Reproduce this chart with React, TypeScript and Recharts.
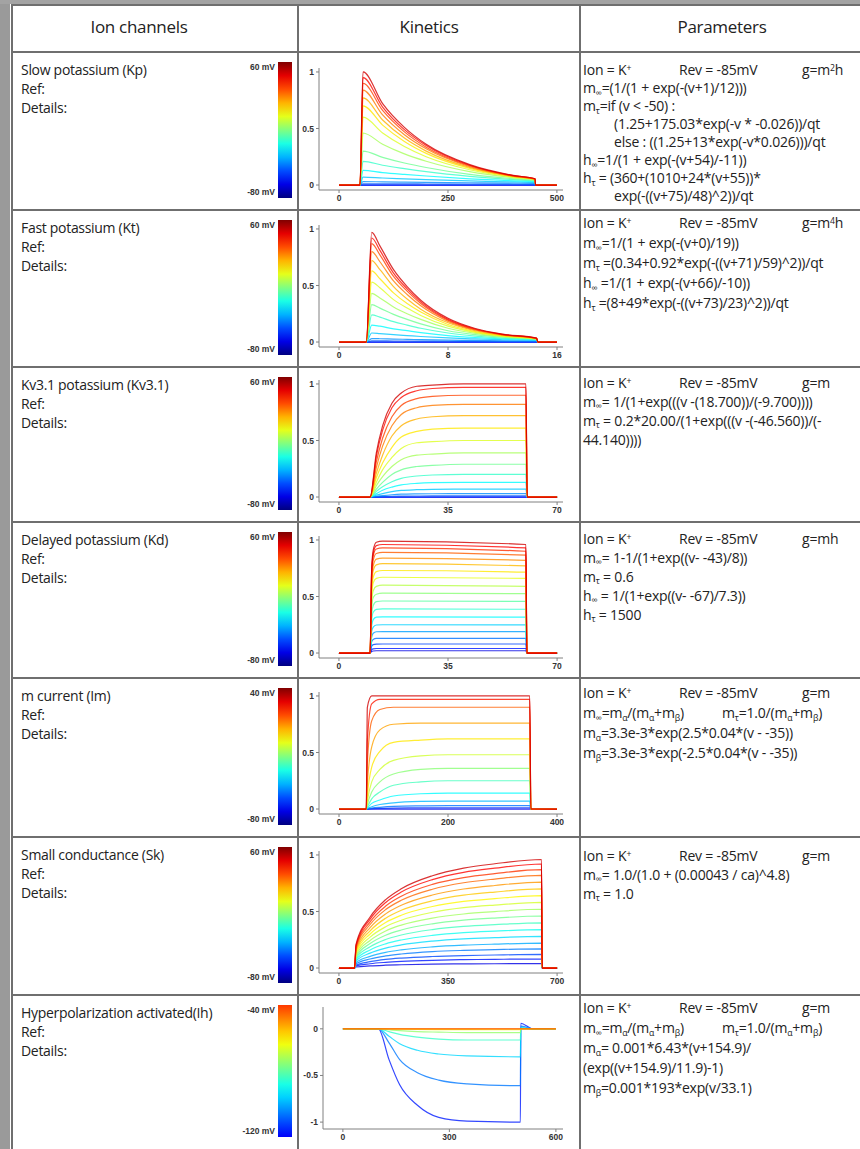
import React from 'react';
import { LineChart, Line, XAxis, YAxis } from 'recharts';

// ---------- data ----------

const channelNames = [
  'Slow potassium (Kp)',
  'Fast potassium (Kt)',
  'Kv3.1 potassium (Kv3.1)',
  'Delayed potassium (Kd)',
  'm current (Im)',
  'Small conductance (Sk)',
  'Hyperpolarization activated(Ih)',
];

const barTopLabels = ['60 mV', '60 mV', '60 mV', '60 mV', '40 mV', '60 mV', '-40 mV'];
const barBottomLabels = ['-80 mV', '-80 mV', '-80 mV', '-80 mV', '-80 mV', '-80 mV', '-120 mV'];

const unitTicks = [0, 0.5, 1];
const ihYTicks = [-1, -0.5, 0];

// Slow potassium (Kp)
const kpXTicks = [0, 250, 500];
const kpTime = [0, 48, 55, 100, 150, 200, 300, 400, 450, 451, 500];
const kpTraces = [
  [0, 0, 1.0, 0.72, 0.51, 0.36, 0.18, 0.085, 0.055, 0, 0],
  [0, 0, 0.95, 0.69, 0.49, 0.35, 0.175, 0.083, 0.054, 0, 0],
  [0, 0, 0.9, 0.66, 0.47, 0.335, 0.17, 0.081, 0.053, 0, 0],
  [0, 0, 0.84, 0.62, 0.445, 0.32, 0.163, 0.079, 0.052, 0, 0],
  [0, 0, 0.77, 0.575, 0.415, 0.3, 0.155, 0.077, 0.051, 0, 0],
  [0, 0, 0.7, 0.53, 0.385, 0.28, 0.147, 0.074, 0.05, 0, 0],
  [0, 0, 0.6, 0.46, 0.34, 0.25, 0.135, 0.07, 0.048, 0, 0],
  [0, 0, 0.46, 0.36, 0.275, 0.21, 0.118, 0.064, 0.045, 0, 0],
  [0, 0, 0.3, 0.245, 0.195, 0.155, 0.094, 0.055, 0.04, 0, 0],
  [0, 0, 0.21, 0.175, 0.145, 0.118, 0.076, 0.047, 0.036, 0, 0],
  [0, 0, 0.13, 0.11, 0.094, 0.08, 0.055, 0.037, 0.03, 0, 0],
  [0, 0, 0.07, 0.062, 0.055, 0.048, 0.036, 0.027, 0.022, 0, 0],
  [0, 0, 0.03, 0.028, 0.026, 0.024, 0.02, 0.016, 0.014, 0, 0],
  [0, 0, 0.01, 0.01, 0.01, 0.009, 0.008, 0.007, 0.006, 0, 0],
  [0, 0, 0, 0, 0, 0, 0, 0, 0, 0, 0],
  [0, 0, 0, 0, 0, 0, 0, 0, 0, 0, 0],
];

// Fast potassium (Kt)
const ktXTicks = [0, 8, 16];
const ktTime = [0, 2, 2.4, 3, 4, 5, 6, 8, 10, 12, 14.5, 14.6, 16];
const ktTraces = [
  [0, 0, 0.97, 0.85, 0.64, 0.49, 0.37, 0.21, 0.12, 0.07, 0.035, 0, 0],
  [0, 0, 0.92, 0.81, 0.61, 0.47, 0.355, 0.2, 0.115, 0.068, 0.034, 0, 0],
  [0, 0, 0.87, 0.77, 0.58, 0.45, 0.34, 0.193, 0.111, 0.066, 0.033, 0, 0],
  [0, 0, 0.8, 0.71, 0.54, 0.42, 0.32, 0.183, 0.106, 0.063, 0.032, 0, 0],
  [0, 0, 0.72, 0.64, 0.49, 0.38, 0.29, 0.17, 0.1, 0.06, 0.031, 0, 0],
  [0, 0, 0.63, 0.56, 0.435, 0.34, 0.265, 0.155, 0.092, 0.056, 0.03, 0, 0],
  [0, 0, 0.53, 0.48, 0.375, 0.3, 0.235, 0.14, 0.085, 0.052, 0.028, 0, 0],
  [0, 0, 0.43, 0.39, 0.31, 0.25, 0.2, 0.122, 0.076, 0.047, 0.026, 0, 0],
  [0, 0, 0.33, 0.3, 0.245, 0.2, 0.16, 0.1, 0.065, 0.042, 0.024, 0, 0],
  [0, 0, 0.24, 0.22, 0.18, 0.15, 0.122, 0.08, 0.053, 0.035, 0.021, 0, 0],
  [0, 0, 0.15, 0.14, 0.117, 0.1, 0.083, 0.057, 0.04, 0.028, 0.018, 0, 0],
  [0, 0, 0.08, 0.075, 0.065, 0.057, 0.049, 0.036, 0.027, 0.02, 0.014, 0, 0],
  [0, 0, 0.03, 0.029, 0.026, 0.024, 0.021, 0.017, 0.014, 0.011, 0.009, 0, 0],
  [0, 0, 0.01, 0.01, 0.009, 0.009, 0.008, 0.007, 0.006, 0.005, 0.004, 0, 0],
  [0, 0, 0, 0, 0, 0, 0, 0, 0, 0, 0, 0, 0],
  [0, 0, 0, 0, 0, 0, 0, 0, 0, 0, 0, 0, 0],
];

// Kv3.1 potassium
const kv31XTicks = [0, 35, 70];
const kv31Time = [0, 10, 12, 14, 17, 20, 25, 30, 40, 60, 60.4, 70];
const kv31Traces = [
  [0, 0, 0.39, 0.63, 0.83, 0.92, 0.98, 0.99, 1.0, 1.0, 0, 0],
  [0, 0, 0.36, 0.59, 0.79, 0.88, 0.94, 0.96, 0.97, 0.97, 0, 0],
  [0, 0, 0.31, 0.52, 0.71, 0.81, 0.87, 0.89, 0.9, 0.9, 0, 0],
  [0, 0, 0.26, 0.45, 0.63, 0.73, 0.79, 0.81, 0.82, 0.82, 0, 0],
  [0, 0, 0.21, 0.37, 0.54, 0.63, 0.69, 0.71, 0.72, 0.72, 0, 0],
  [0, 0, 0.17, 0.3, 0.44, 0.53, 0.58, 0.6, 0.61, 0.61, 0, 0],
  [0, 0, 0.13, 0.24, 0.35, 0.43, 0.48, 0.49, 0.5, 0.5, 0, 0],
  [0, 0, 0.1, 0.18, 0.27, 0.33, 0.37, 0.38, 0.39, 0.39, 0, 0],
  [0, 0, 0.07, 0.13, 0.2, 0.24, 0.27, 0.28, 0.29, 0.29, 0, 0],
  [0, 0, 0.05, 0.09, 0.135, 0.165, 0.186, 0.195, 0.2, 0.2, 0, 0],
  [0, 0, 0.03, 0.06, 0.088, 0.107, 0.121, 0.127, 0.13, 0.13, 0, 0],
  [0, 0, 0.017, 0.03, 0.047, 0.058, 0.065, 0.068, 0.07, 0.07, 0, 0],
  [0, 0, 0.007, 0.013, 0.02, 0.025, 0.028, 0.029, 0.03, 0.03, 0, 0],
  [0, 0, 0.002, 0.004, 0.007, 0.008, 0.009, 0.01, 0.01, 0.01, 0, 0],
  [0, 0, 0, 0, 0, 0, 0, 0, 0, 0, 0, 0],
  [0, 0, 0, 0, 0, 0, 0, 0, 0, 0, 0, 0],
];

// Delayed potassium (Kd)
const kdXTicks = [0, 35, 70];
const kdTime = [0, 10, 10.5, 11, 12, 14, 60, 60.3, 70];
const kdTraces = [
  [0, 0, 0.74, 0.91, 0.98, 0.99, 0.96, 0, 0],
  [0, 0, 0.72, 0.88, 0.95, 0.96, 0.93, 0, 0],
  [0, 0, 0.7, 0.86, 0.92, 0.93, 0.9, 0, 0],
  [0, 0, 0.67, 0.82, 0.88, 0.89, 0.865, 0, 0],
  [0, 0, 0.63, 0.77, 0.83, 0.84, 0.82, 0, 0],
  [0, 0, 0.59, 0.73, 0.78, 0.79, 0.77, 0, 0],
  [0, 0, 0.55, 0.67, 0.72, 0.73, 0.715, 0, 0],
  [0, 0, 0.5, 0.62, 0.66, 0.67, 0.66, 0, 0],
  [0, 0, 0.45, 0.55, 0.59, 0.6, 0.59, 0, 0],
  [0, 0, 0.4, 0.49, 0.52, 0.53, 0.525, 0, 0],
  [0, 0, 0.345, 0.42, 0.455, 0.46, 0.456, 0, 0],
  [0, 0, 0.29, 0.36, 0.386, 0.39, 0.387, 0, 0],
  [0, 0, 0.24, 0.295, 0.317, 0.32, 0.318, 0, 0],
  [0, 0, 0.19, 0.23, 0.248, 0.25, 0.249, 0, 0],
  [0, 0, 0.14, 0.175, 0.188, 0.19, 0.19, 0, 0],
  [0, 0, 0.1, 0.12, 0.129, 0.13, 0.13, 0, 0],
  [0, 0, 0.06, 0.074, 0.079, 0.08, 0.08, 0, 0],
  [0, 0, 0.03, 0.037, 0.04, 0.04, 0.04, 0, 0],
  [0, 0, 0.015, 0.018, 0.02, 0.02, 0.02, 0, 0],
];

// m current (Im)
const imXTicks = [0, 200, 400];
const imTime = [0, 50, 52, 60, 75, 100, 150, 200, 350, 352, 400];
const imTraces = [
  [0, 0, 0.9, 1.0, 1.0, 1.0, 1.0, 1.0, 1.0, 0, 0],
  [0, 0, 0.6, 0.93, 0.97, 0.97, 0.97, 0.97, 0.97, 0, 0],
  [0, 0, 0.4, 0.78, 0.88, 0.9, 0.9, 0.9, 0.9, 0, 0],
  [0, 0, 0.22, 0.55, 0.7, 0.75, 0.76, 0.76, 0.76, 0, 0],
  [0, 0, 0.12, 0.37, 0.51, 0.59, 0.61, 0.62, 0.62, 0, 0],
  [0, 0, 0.07, 0.24, 0.35, 0.43, 0.47, 0.48, 0.48, 0, 0],
  [0, 0, 0.04, 0.15, 0.24, 0.31, 0.35, 0.36, 0.36, 0, 0],
  [0, 0, 0.02, 0.09, 0.15, 0.21, 0.24, 0.25, 0.25, 0, 0],
  [0, 0, 0.01, 0.05, 0.08, 0.115, 0.135, 0.14, 0.14, 0, 0],
  [0, 0, 0.005, 0.02, 0.04, 0.055, 0.067, 0.07, 0.07, 0, 0],
  [0, 0, 0.002, 0.008, 0.015, 0.023, 0.028, 0.03, 0.03, 0, 0],
  [0, 0, 0, 0.003, 0.005, 0.008, 0.01, 0.01, 0.01, 0, 0],
  [0, 0, 0, 0, 0, 0, 0, 0, 0, 0, 0],
];

// Small conductance (Sk)
const skXTicks = [0, 350, 700];
const skTime = [0, 50, 55, 100, 150, 200, 300, 400, 500, 650, 652, 700];
const skTraces = [
  [0, 0, 0.211, 0.451, 0.605, 0.701, 0.816, 0.883, 0.922, 0.96, 0, 0],
  [0, 0, 0.202, 0.432, 0.58, 0.672, 0.782, 0.846, 0.883, 0.92, 0, 0],
  [0, 0, 0.191, 0.409, 0.548, 0.635, 0.74, 0.8, 0.835, 0.87, 0, 0],
  [0, 0, 0.18, 0.385, 0.517, 0.599, 0.697, 0.754, 0.787, 0.82, 0, 0],
  [0, 0, 0.167, 0.357, 0.479, 0.555, 0.646, 0.699, 0.73, 0.76, 0, 0],
  [0, 0, 0.154, 0.329, 0.441, 0.511, 0.595, 0.644, 0.672, 0.7, 0, 0],
  [0, 0, 0.141, 0.301, 0.403, 0.467, 0.544, 0.589, 0.614, 0.64, 0, 0],
  [0, 0, 0.128, 0.273, 0.365, 0.423, 0.493, 0.534, 0.557, 0.58, 0, 0],
  [0, 0, 0.114, 0.244, 0.328, 0.38, 0.442, 0.478, 0.499, 0.52, 0, 0],
  [0, 0, 0.101, 0.216, 0.29, 0.336, 0.391, 0.423, 0.442, 0.46, 0, 0],
  [0, 0, 0.088, 0.188, 0.252, 0.292, 0.34, 0.368, 0.384, 0.4, 0, 0],
  [0, 0, 0.075, 0.16, 0.214, 0.248, 0.289, 0.313, 0.326, 0.34, 0, 0],
  [0, 0, 0.062, 0.132, 0.176, 0.204, 0.238, 0.258, 0.269, 0.28, 0, 0],
  [0, 0, 0.048, 0.103, 0.139, 0.161, 0.187, 0.202, 0.211, 0.22, 0, 0],
  [0, 0, 0.037, 0.08, 0.107, 0.124, 0.145, 0.156, 0.163, 0.17, 0, 0],
  [0, 0, 0.026, 0.056, 0.076, 0.088, 0.102, 0.11, 0.115, 0.12, 0, 0],
  [0, 0, 0.018, 0.038, 0.05, 0.058, 0.068, 0.074, 0.077, 0.08, 0, 0],
  [0, 0, 0.009, 0.019, 0.025, 0.029, 0.034, 0.037, 0.038, 0.04, 0, 0],
];

// Hyperpolarization activated (Ih)
const ihXTicks = [0, 300, 600];
const ihTime = [0, 100, 130, 160, 210, 270, 350, 500, 501, 535, 600];
const ihTraces = [
  [0, 0, 0, 0, 0, 0, 0, 0, 0, 0, 0],
  [0, 0, 0, 0, 0, 0, 0, 0, 0, 0, 0],
  [0, 0, -0.002, -0.004, -0.006, -0.008, -0.009, -0.01, 0, 0, 0],
  [0, 0, -0.01, -0.02, -0.03, -0.035, -0.04, -0.04, 0, 0, 0],
  [0, 0, -0.03, -0.06, -0.09, -0.11, -0.12, -0.12, 0.005, 0, 0],
  [0, 0, -0.08, -0.16, -0.23, -0.27, -0.29, -0.3, 0.015, 0, 0],
  [0, 0, -0.15, -0.33, -0.47, -0.55, -0.59, -0.61, 0.03, 0, 0],
  [0, 0, -0.33, -0.6, -0.82, -0.95, -0.99, -1.0, 0.06, 0, 0],
];

// ---------- layout ----------

const W = 860;
const H = 1149;
const rowTops = [52, 210, 367, 522, 678, 837, 995];
const rowBottoms = [210, 367, 522, 678, 837, 995, 1149];
const axisTops = [68, 225, 380, 536, 692, 851, 1007];
const paramFirst = [70, 223, 382, 538, 693, 855, 1008];
const paramStep = [18, 20, 19, 19, 20, 19, 20];

function jet(f: number) {
  const c = (v: number) => Math.round(255 * Math.max(0, Math.min(1, v)));
  return `rgb(${c(1.5 - Math.abs(4 * f - 3))},${c(1.5 - Math.abs(4 * f - 2))},${c(1.5 - Math.abs(4 * f - 1))})`;
}

function gradient(lo: number, hi: number) {
  const stops: string[] = [];
  for (let k = 0; k <= 10; k++) {
    stops.push(`${jet(lo + ((hi - lo) * k) / 10)} ${k * 10}%`);
  }
  return `linear-gradient(to top, ${stops.join(', ')})`;
}

const charts = [
  { time: kpTime, traces: kpTraces, xDomain: [-46, 514], xTicks: kpXTicks, yDomain: [-0.044, 1.035], yTicks: unitTicks, left: 319, fLo: 0.1, fHi: 0.92 },
  { time: ktTime, traces: ktTraces, xDomain: [-1.47, 16.44], xTicks: ktXTicks, yDomain: [-0.044, 1.035], yTicks: unitTicks, left: 319, fLo: 0.1, fHi: 0.92 },
  { time: kv31Time, traces: kv31Traces, xDomain: [-6.4, 71.9], xTicks: kv31XTicks, yDomain: [-0.044, 1.035], yTicks: unitTicks, left: 319, fLo: 0.1, fHi: 0.92 },
  { time: kdTime, traces: kdTraces, xDomain: [-6.4, 71.9], xTicks: kdXTicks, yDomain: [-0.044, 1.035], yTicks: unitTicks, left: 319, fLo: 0.1, fHi: 0.92 },
  { time: imTime, traces: imTraces, xDomain: [-36.7, 411], xTicks: imXTicks, yDomain: [-0.044, 1.035], yTicks: unitTicks, left: 319, fLo: 0.1, fHi: 0.92 },
  { time: skTime, traces: skTraces, xDomain: [-64, 719], xTicks: skXTicks, yDomain: [-0.044, 1.035], yTicks: unitTicks, left: 319, fLo: 0.1, fHi: 0.92 },
  { time: ihTime, traces: ihTraces, xDomain: [-56, 620], xTicks: ihXTicks, yDomain: [-1.074, 0.234], yTicks: ihYTicks, left: 323, fLo: 0.15, fHi: 0.8 },
];

const tickStyle = { fontSize: 8.5, fontWeight: 700, fill: '#333', fontFamily: 'Liberation Sans' };

function Kinetics({ cfg, top }: { cfg: any; top: number }) {
  const n = cfg.traces.length;
  const boxLeft = cfg.left - 21;
  const order = cfg.traces.map((_: any, i: number) => n - 1 - i);
  return (
    <div style={{ position: 'absolute', left: boxLeft, top: top - 8 }}>
      <LineChart width={573 - boxLeft} height={150} margin={{ top: 8, right: 10, bottom: 0, left: 0 }}>
        <XAxis type="number" dataKey="x" domain={cfg.xDomain} ticks={cfg.xTicks} allowDataOverflow interval={0}
          height={20} tick={tickStyle} tickSize={3} stroke="#808080" />
        <YAxis type="number" domain={cfg.yDomain} ticks={cfg.yTicks} allowDataOverflow interval={0}
          width={21} tick={tickStyle} tickSize={3} stroke="#808080" />
        {order.map((i: number) => {
          const f = n > 1 ? cfg.fHi - ((cfg.fHi - cfg.fLo) * i) / (n - 1) : cfg.fHi;
          const pts = cfg.time.map((t: number, j: number) => ({ x: t, y: cfg.traces[i][j] }));
          return (
            <Line key={i} data={pts} dataKey="y" type="monotone" dot={false} stroke={jet(f)}
              strokeOpacity={0.8} strokeWidth={1.2} isAnimationActive={false} />
          );
        })}
      </LineChart>
    </div>
  );
}

// sub/superscripts shifted with relative positioning so they do not grow the line box
const s = (t: string) => <span style={{ fontSize: '0.62em', position: 'relative', top: '0.3em' }}>{t}</span>;
const sup = (t: string) => <span style={{ fontSize: '0.62em', position: 'relative', top: '-0.45em' }}>{t}</span>;

function first(g: React.ReactNode) {
  return (
    <>
      <span>Ion = K{sup('+')}</span>
      <span style={{ position: 'absolute', left: 96 }}>Rev = -85mV</span>
      <span style={{ position: 'absolute', left: 219 }}>{g}</span>
    </>
  );
}

const ratio = (
  <>
    m{s('∞')}=m{s('α')}/(m{s('α')}+m{s('β')})
    <span style={{ position: 'absolute', left: 139 }}>m{s('τ')}=1.0/(m{s('α')}+m{s('β')})</span>
  </>
);

type PLine = [number, React.ReactNode];
const params: PLine[][] = [
  [
    [0, first(<>g=m{sup('2')}h</>)],
    [0, <>m{s('∞')}{'=(1/(1 + exp(-(v+1)/12)))'}</>],
    [0, <>m{s('τ')}{'=if (v < -50) :'}</>],
    [31, <>{'(1.25+175.03*exp(-v * -0.026))/qt'}</>],
    [31, <>{'else : ((1.25+13*exp(-v*0.026)))/qt'}</>],
    [0, <>h{s('∞')}{'=1/(1 + exp(-(v+54)/-11))'}</>],
    [0, <>h{s('τ')}{' = (360+(1010+24*(v+55))*'}</>],
    [31, <>{'exp(-((v+75)/48)^2))/qt'}</>],
  ],
  [
    [0, first(<>g=m{sup('4')}h</>)],
    [0, <>m{s('∞')}{'=1/(1 + exp(-(v+0)/19))'}</>],
    [0, <>m{s('τ')}{' =(0.34+0.92*exp(-((v+71)/59)^2))/qt'}</>],
    [0, <>h{s('∞')}{' =1/(1 + exp(-(v+66)/-10))'}</>],
    [0, <>h{s('τ')}{' =(8+49*exp(-((v+73)/23)^2))/qt'}</>],
  ],
  [
    [0, first(<>g=m</>)],
    [0, <>m{s('∞')}{'= 1/(1+exp(((v -(18.700))/(-9.700))))'}</>],
    [0, <>m{s('τ')}{' = 0.2*20.00/(1+exp(((v -(-46.560))/(-'}</>],
    [0, <>{'44.140))))'}</>],
  ],
  [
    [0, first(<>g=mh</>)],
    [0, <>m{s('∞')}{'= 1-1/(1+exp((v- -43)/8))'}</>],
    [0, <>m{s('τ')}{' = 0.6'}</>],
    [0, <>h{s('∞')}{' = 1/(1+exp((v- -67)/7.3))'}</>],
    [0, <>h{s('τ')}{' = 1500'}</>],
  ],
  [
    [0, first(<>g=m</>)],
    [0, ratio],
    [0, <>m{s('α')}{'=3.3e-3*exp(2.5*0.04*(v - -35))'}</>],
    [0, <>m{s('β')}{'=3.3e-3*exp(-2.5*0.04*(v - -35))'}</>],
  ],
  [
    [0, first(<>g=m</>)],
    [0, <>m{s('∞')}{'= 1.0/(1.0 + (0.00043 / ca)^4.8)'}</>],
    [0, <>m{s('τ')}{' = 1.0'}</>],
  ],
  [
    [0, first(<>g=m</>)],
    [0, ratio],
    [0, <>m{s('α')}{'= 0.001*6.43*(v+154.9)/'}</>],
    [0, <>{'(exp((v+154.9)/11.9)-1)'}</>],
    [0, <>m{s('β')}{'=0.001*193*exp(v/33.1)'}</>],
  ],
];

const font = '"Open Sans", sans-serif';
const lineColor = '#6f6f6f';

export default function App() {
  return (
    <div style={{ position: 'absolute', left: 0, top: 0, width: W, height: H, background: '#fff', overflow: 'hidden', fontFamily: font, color: '#222' }}>
      {/* gray page frame */}
      <div style={{ position: 'absolute', left: 0, top: 0, width: 10, height: H, background: '#9a9a9a' }} />
      <div style={{ position: 'absolute', left: 0, top: 0, width: W, height: 4, background: '#a3a3a3' }} />

      {/* grid */}
      {[5, ...rowTops].map((y) => (
        <div key={'h' + y} style={{ position: 'absolute', left: 11, top: y - 1, width: W - 11, height: 2, background: lineColor }} />
      ))}
      {[12, 298, 580].map((x) => (
        <div key={'v' + x} style={{ position: 'absolute', left: x - 1, top: 4, width: 2, height: H - 4, background: lineColor }} />
      ))}

      {/* header */}
      {[['Ion channels', 139], ['Kinetics', 429], ['Parameters', 722]].map(([t, x]) => (
        <div key={t as string} style={{ position: 'absolute', left: x as number, top: 15, transform: 'translateX(-50%)', fontSize: 17, letterSpacing: -0.3, whiteSpace: 'nowrap' }}>
          {t}
        </div>
      ))}

      {rowTops.map((rt, r) => {
        const barTop = rt + 10;
        const barH = rowBottoms[r] - rt - 22;
        return (
          <React.Fragment key={r}>
            <div style={{ position: 'absolute', left: 21, top: rt + 8, fontSize: 14, letterSpacing: -0.3, lineHeight: '19px', whiteSpace: 'nowrap' }}>
              <div>{channelNames[r]}</div>
              <div>Ref:</div>
              <div>Details:</div>
            </div>
            <div style={{ position: 'absolute', left: 278, top: barTop, width: 14, height: barH, background: r === 6 ? gradient(0.12, 0.82) : gradient(0, 1) }} />
            <div style={{ position: 'absolute', right: W - 275, top: barTop, fontSize: 8.5, fontWeight: 700, fontFamily: 'Liberation Sans', color: '#333', whiteSpace: 'nowrap' }}>
              {barTopLabels[r]}
            </div>
            <div style={{ position: 'absolute', right: W - 275, top: barTop + barH - 11, fontSize: 8.5, fontWeight: 700, fontFamily: 'Liberation Sans', color: '#333', whiteSpace: 'nowrap' }}>
              {barBottomLabels[r]}
            </div>
            <Kinetics cfg={charts[r]} top={axisTops[r]} />
            <div style={{ position: 'absolute', left: 583, top: paramFirst[r] - paramStep[r] / 2, width: 277, fontSize: 14, letterSpacing: -0.2, lineHeight: paramStep[r] + 'px', whiteSpace: 'nowrap' }}>
              {params[r].map(([ind, node], k) => (
                <div key={k} style={{ position: 'relative', paddingLeft: ind, height: paramStep[r] }}>{node}</div>
              ))}
            </div>
          </React.Fragment>
        );
      })}
    </div>
  );
}
